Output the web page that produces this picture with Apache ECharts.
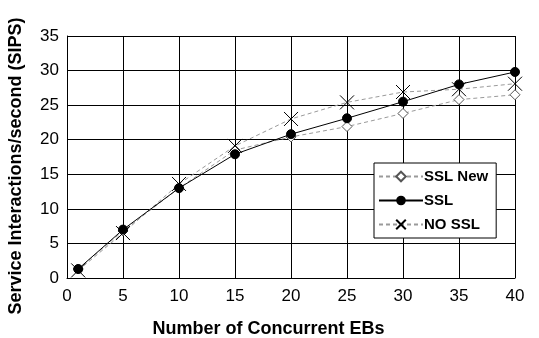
<!DOCTYPE html>
<html>
<head>
<meta charset="utf-8">
<script src="https://cdn.jsdelivr.net/npm/echarts@6/dist/echarts.min.js"></script>
<style>
  html, body { margin: 0; padding: 0; background: #fff; }
  #chart { width: 539px; height: 338px; }
</style>
</head>
<body>
<div id="chart"></div>
<script>
// Concurrent emulated browsers (EBs)
const ebs = [1, 5, 10, 15, 20, 25, 30, 35, 40];
// Throughput in service interactions per second
const sslNew = [1.3, 6.8, 13.0, 18.5, 20.4, 21.9, 23.8, 25.8, 26.5];
const ssl    = [1.3, 7.0, 13.0, 17.9, 20.8, 23.1, 25.5, 28.0, 29.8];
const noSsl  = [1.1, 6.5, 13.6, 19.1, 23.0, 25.4, 26.9, 27.3, 28.1];
const xTicks = { min: 0, max: 40, step: 5 };
const yTicks = { min: 0, max: 35, step: 5 };

const pairs = ys => ebs.map((x, i) => [x, ys[i]]);
const font = 'Liberation Sans, Arial, sans-serif';
const crossPath = 'path://M0,0L10,10M10,0L0,10';

const chart = echarts.init(document.getElementById('chart'), null, { renderer: 'canvas' });
chart.setOption({
  animation: false,
  backgroundColor: '#fff',
  grid: { left: 67, right: 24, top: 36, bottom: 60, containLabel: false, outerBoundsMode: 'none' },
  xAxis: {
    type: 'value', min: xTicks.min, max: xTicks.max, interval: xTicks.step,
    name: 'Number of Concurrent EBs', nameLocation: 'middle', nameGap: 42,
    nameTextStyle: { fontFamily: font, fontSize: 18, fontWeight: 'bold', color: '#000', padding: [0, 45, 0, 0] },
    axisLine: { lineStyle: { color: '#000', width: 1 } },
    axisTick: { show: false },
    axisLabel: { fontFamily: font, fontSize: 17, color: '#000', margin: 10 },
    splitLine: { show: true, lineStyle: { color: '#000', width: 1 } }
  },
  yAxis: {
    type: 'value', min: yTicks.min, max: yTicks.max, interval: yTicks.step,
    name: 'Service Interactions/second (SIPS)', nameLocation: 'middle', nameGap: 42,
    nameTextStyle: { fontFamily: font, fontSize: 18, fontWeight: 'bold', color: '#000', padding: [0, 18, 0, 0] },
    axisLine: { show: true, lineStyle: { color: '#000', width: 1 } },
    axisTick: { show: false },
    axisLabel: { fontFamily: font, fontSize: 17, color: '#000', margin: 8 },
    splitLine: { show: true, lineStyle: { color: '#000', width: 1 } }
  },
  legend: {
    data: ['SSL New', 'SSL', 'NO SSL'],
    orient: 'vertical', left: 374, top: 163,
    backgroundColor: '#fff', borderColor: '#000', borderWidth: 1,
    padding: [6, 8, 6, 4], itemGap: 9, itemWidth: 44, itemHeight: 12,
    textStyle: { fontFamily: font, fontSize: 15, fontWeight: 'bold', color: '#000', padding: [0, 0, 0, -4] }
  },
  series: [
    {
      name: 'SSL New', type: 'line', data: pairs(sslNew), z: 2,
      symbol: 'diamond', symbolSize: 10, clip: false,
      lineStyle: { color: '#9a9a9a', width: 1, type: [4, 3] },
      itemStyle: { color: '#fff', borderColor: '#555', borderWidth: 1 }
    },
    {
      name: 'NO SSL', type: 'line', data: pairs(noSsl), z: 3,
      symbol: crossPath, symbolSize: 14, clip: false,
      lineStyle: { color: '#9a9a9a', width: 1, type: [4, 3] },
      itemStyle: { color: 'none', borderColor: '#000', borderWidth: 1 }
    },
    {
      name: 'SSL', type: 'line', data: pairs(ssl), z: 4,
      symbol: 'circle', symbolSize: 9, clip: false,
      lineStyle: { color: '#000', width: 1 },
      itemStyle: { color: '#000', borderColor: '#000' }
    }
  ]
});
</script>
</body>
</html>
